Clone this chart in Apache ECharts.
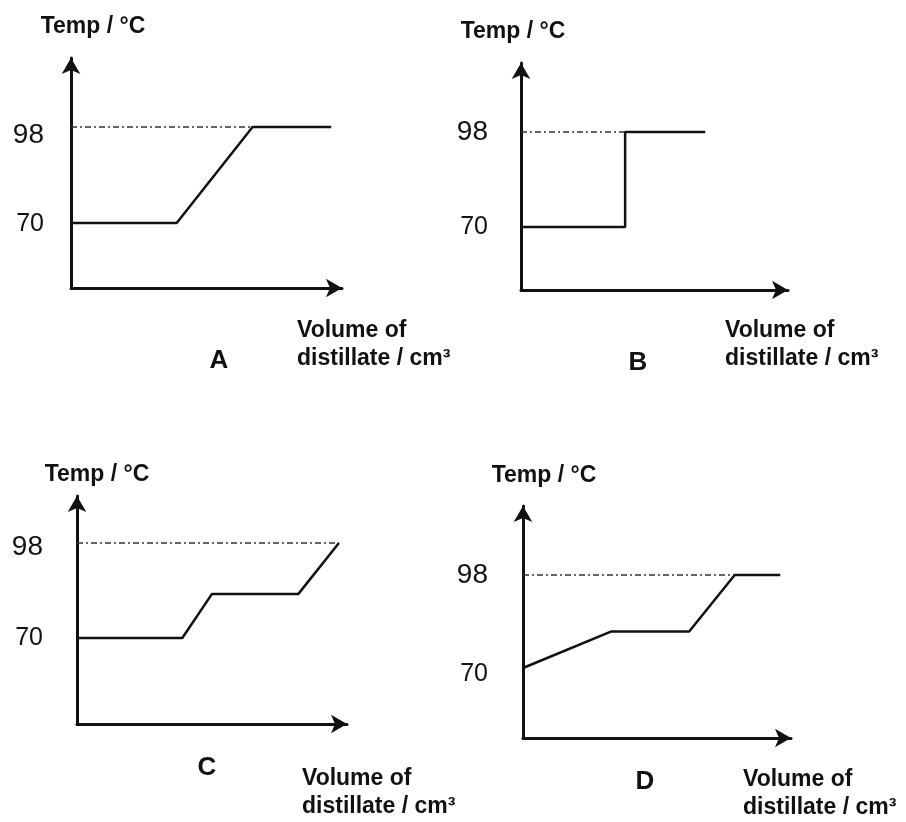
<!DOCTYPE html>
<html>
<head>
<meta charset="utf-8">
<title>Distillation curves A-D</title>
<script src="https://cdn.jsdelivr.net/npm/echarts@6/dist/echarts.min.js"></script>
<style>
  html, body { margin: 0; padding: 0; background: #fff; }
  #chart { width: 906px; height: 822px; }
</style>
</head>
<body>
<div id="chart"></div>
<script>
// data: volume as % of the drawn axis length, temperature in °C
const panelLetters = ['A', 'B', 'C', 'D'];
const tempTicks = [70, 98];

const volumeA = [0, 39, 67, 96];
const tempA = [70, 70, 98, 98];

const volumeB = [0, 39, 39, 69];
const tempB = [70, 70, 98, 98];

const volumeC = [0, 39, 50, 82, 97];
const tempC = [70, 70, 83, 83, 98];

const volumeD = [0, 33, 62, 79, 96];
const tempD = [70, 81, 81, 98, 98];

// where the dashed 98 °C guide line stops in each panel
const guideEnd = [67, 39, 97, 79];

const yName = 'Temp / °C';
const xName = 'Volume of\ndistillate / cm³';

// pixel layout of each panel (axis origin, arrow tips, tick rows, text spots)
const layout = [
  { axisX: 71, tipY: 58, baseY: 288, tipX: 342, y70: 223, y98: 127, nameX: 297, nameY: 331, letterX: 219, letterY: 361, tempX: 93, tempY: 27, gap: 27, dy98: 8, dy70: 1 },
  { axisX: 521, tipY: 63, baseY: 290, tipX: 788, y70: 227, y98: 132, nameX: 725, nameY: 331, letterX: 638, letterY: 363, tempX: 513, tempY: 32, gap: 33, dy98: 0, dy70: 0 },
  { axisX: 77, tipY: 496, baseY: 724, tipX: 347, y70: 638, y98: 543, nameX: 302, nameY: 779, letterX: 207, letterY: 768, tempX: 97, tempY: 475, gap: 34, dy98: 4, dy70: 0 },
  { axisX: 523, tipY: 506, baseY: 738, tipX: 791, y70: 668, y98: 575, nameX: 743, nameY: 780, letterX: 645, letterY: 782, tempX: 544, tempY: 476, gap: 35, dy98: 0, dy70: 6 }
];

const volumes = [volumeA, volumeB, volumeC, volumeD];
const temps = [tempA, tempB, tempC, tempD];

const FONT = 'Liberation Sans';
const INK = '#111';

const grids = [];
const xAxes = [];
const yAxes = [];
const series = [];
const titles = [];

layout.forEach((p, i) => {
  const top = p.tipY;
  const width = p.tipX - p.axisX;
  const k = (p.y70 - p.y98) / (tempTicks[1] - tempTicks[0]);
  const yMin = tempTicks[0] - (p.baseY - p.y70) / k;
  const yMax = tempTicks[1] + (p.y98 - top) / k;
  const dx = p.tempX - p.axisX;

  grids.push({ left: p.axisX, top: top, width: width, height: p.baseY - top, containLabel: false });

  xAxes.push({
    gridIndex: i,
    type: 'value',
    min: 0,
    max: 100,
    name: xName,
    nameLocation: 'start',
    nameGap: 0,
    nameTextStyle: {
      fontFamily: FONT,
      fontSize: 23,
      fontWeight: 'bold',
      color: INK,
      align: 'left',
      verticalAlign: 'top',
      lineHeight: 28,
      padding: [p.nameY - 14 - p.baseY, 0, 0, p.nameX - p.axisX]
    },
    axisLine: { onZero: false, symbol: ['none', 'arrow'], symbolSize: [14, 16], lineStyle: { color: INK, width: 3 } },
    axisTick: { show: false },
    axisLabel: { show: false },
    splitLine: { show: false }
  });

  yAxes.push({
    gridIndex: i,
    type: 'value',
    min: yMin,
    max: yMax,
    name: yName,
    nameLocation: 'end',
    nameGap: top - p.tempY,
    nameTextStyle: {
      fontFamily: FONT,
      fontSize: 23,
      fontWeight: 'bold',
      color: INK,
      align: 'center',
      verticalAlign: 'middle',
      padding: dx >= 0 ? [0, 0, 0, 2 * dx] : [0, -2 * dx, 0, 0]
    },
    axisLine: { onZero: false, symbol: ['none', 'arrow'], symbolSize: [14, 16], lineStyle: { color: INK, width: 3 } },
    axisTick: { show: false },
    splitLine: { show: false },
    axisLabel: {
      customValues: tempTicks,
      margin: p.gap,
      formatter: v => (v === tempTicks[1] ? '{hi|' + v + '}' : '{lo|' + v + '}'),
      rich: {
        hi: { fontFamily: FONT, fontSize: 28, color: INK, padding: [2 * p.dy98, 0, 0, 0] },
        lo: { fontFamily: FONT, fontSize: 25, color: INK, padding: [2 * p.dy70, 0, 0, 0] }
      }
    }
  });

  series.push({
    name: 'guide ' + panelLetters[i],
    type: 'line',
    xAxisIndex: i,
    yAxisIndex: i,
    data: [[0, tempTicks[1]], [guideEnd[i], tempTicks[1]]],
    showSymbol: false,
    lineStyle: { color: '#333', width: 1.3, type: [6, 3, 2, 3] },
    z: 1
  });

  series.push({
    name: 'curve ' + panelLetters[i],
    type: 'line',
    xAxisIndex: i,
    yAxisIndex: i,
    data: volumes[i].map((v, j) => [v, temps[i][j]]),
    showSymbol: false,
    lineStyle: { color: INK, width: 2.5 },
    z: 2
  });

  titles.push({
    text: panelLetters[i],
    left: p.letterX,
    top: p.letterY,
    textAlign: 'center',
    textVerticalAlign: 'middle',
    padding: 0,
    textStyle: { fontFamily: FONT, fontSize: 26, fontWeight: 'bold', color: INK }
  });
});

const chart = echarts.init(document.getElementById('chart'), null, { renderer: 'canvas' });
chart.setOption({
  backgroundColor: '#fff',
  animation: false,
  title: titles,
  grid: grids,
  xAxis: xAxes,
  yAxis: yAxes,
  series: series
});
</script>
</body>
</html>
